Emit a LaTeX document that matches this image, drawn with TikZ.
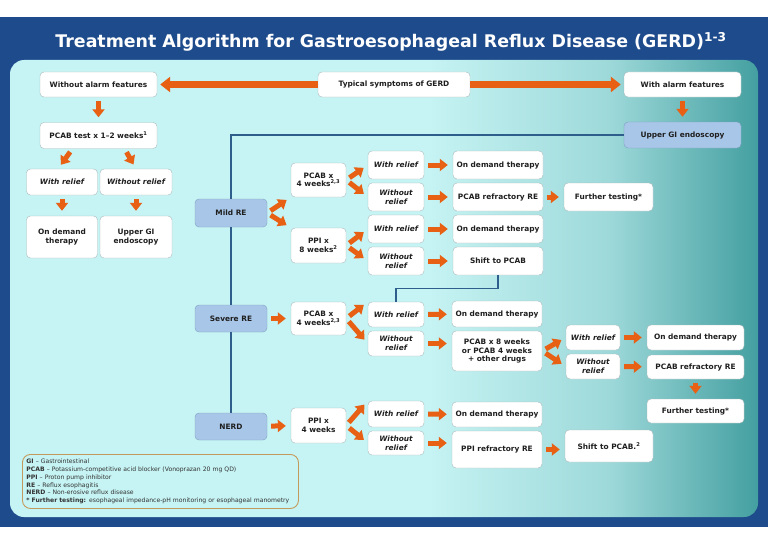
\documentclass[tikz,border=0pt]{standalone}
\usepackage{xcolor}
\usepackage{fontspec}
\setmainfont{DejaVu Sans}
\usepackage{tikz}
\usetikzlibrary{arrows.meta}

\definecolor{gerdnavy}{HTML}{1E4B8C}
\definecolor{gerdorange}{HTML}{E86014}
\definecolor{panellight}{HTML}{C6F3F3}
\definecolor{panelmid}{HTML}{9ED9DA}
\definecolor{paneldark}{HTML}{449FA0}
\definecolor{boxblue}{HTML}{A8C6E8}
\definecolor{boxblueline}{HTML}{829FC2}
\definecolor{boxline}{HTML}{A9B9BC}
\definecolor{flowline}{HTML}{2E5E8C}
\definecolor{legendline}{HTML}{C49A5C}

\pgfdeclarehorizontalshading{panelshade}{100bp}{color(0bp)=(panellight); color(25bp)=(panellight); color(53bp)=(panellight); color(65bp)=(panelmid); color(75bp)=(paneldark); color(100bp)=(paneldark)}

\tikzset{
  box/.style={draw=boxline, fill=white, rounded corners=4pt, align=center, inner sep=1pt,
    text=black!88, font=\fontsize{7.4}{8.6}\selectfont\bfseries},
  bluebox/.style={box, draw=boxblueline, fill=boxblue},
  reliefbox/.style={box, font=\fontsize{7.4}{8.6}\selectfont\bfseries\itshape},
  barrow/.style={draw=gerdorange, line width=5pt, -{Triangle[width=12pt,length=8pt]},
    shorten <=4pt, shorten >=5pt},
  bigarrow/.style={draw=gerdorange, line width=7pt, -{Triangle[width=15pt,length=10pt]},
    shorten >=3pt},
  flow/.style={draw=flowline, line width=1.3pt},
}

\begin{document}
\begin{tikzpicture}[x=1pt,y=-1pt]
\useasboundingbox (0,0) rectangle (768,543);
\fill[white] (0,0) rectangle (768,543);
\fill[gerdnavy] (0,17) rectangle (768,527);
\shade[shading=panelshade, rounded corners=14pt] (10,60) rectangle (758,517);
\node[text=white, font=\fontsize{17.4}{20}\selectfont\bfseries] at (391,42) (title)
    {Treatment Algorithm for Gastroesophageal Reflux Disease (GERD)\textsuperscript{1-3}};

% top row and left branch
\node[box, minimum width=117pt, minimum height=25pt] at (98.5,84.5) (noalarm) {Without alarm features};
\node[box, minimum width=152pt, minimum height=25pt] at (394,84.5) (typical) {Typical symptoms of GERD};
\node[box, minimum width=117pt, minimum height=25pt] at (682.5,84.5) (alarm) {With alarm features};
\node[box, minimum width=117pt, minimum height=26pt] at (98.5,135.5) (pcabtest) {PCAB test x 1--2 weeks\textsuperscript{1}};
\node[reliefbox, minimum width=71pt, minimum height=26pt] at (62,182) (relief) {With relief};
\node[reliefbox, minimum width=72pt, minimum height=26pt] at (136,182) (norelief) {Without relief};
\node[box, minimum width=71pt, minimum height=42pt] at (62,237) (ondemand) {On demand\\therapy};
\node[box, minimum width=72pt, minimum height=42pt] at (136,237) (endoleft) {Upper GI\\endoscopy};
\node[bluebox, minimum width=117pt, minimum height=26pt] at (682.5,135) (endoright) {Upper GI endoscopy};

% mild RE
\node[bluebox, minimum width=72pt, minimum height=28pt] at (231,213) (mildre) {Mild RE};
\node[box, minimum width=55pt, minimum height=34pt] at (318.5,180) (pcabmild) {PCAB x\\4 weeks\textsuperscript{2,3}};
\node[box, minimum width=55pt, minimum height=35pt] at (318.5,245.5) (ppimild) {PPI x\\8 weeks\textsuperscript{2}};
\node[reliefbox, minimum width=56pt, minimum height=28pt] at (396,165) (reliefa) {With relief};
\node[reliefbox, minimum width=56pt, minimum height=28pt] at (396,197) (noreliefa) {Without\\relief};
\node[reliefbox, minimum width=56pt, minimum height=28pt] at (396,229) (reliefb) {With relief};
\node[reliefbox, minimum width=56pt, minimum height=28pt] at (396,261) (noreliefb) {Without\\relief};
\node[box, minimum width=90pt, minimum height=28pt] at (498,165) (demanda) {On demand therapy};
\node[box, minimum width=90pt, minimum height=28pt] at (498,197) (refrpcaba) {PCAB refractory RE};
\node[box, minimum width=89pt, minimum height=28pt] at (608.5,197) (testinga) {Further testing*};
\node[box, minimum width=90pt, minimum height=28pt] at (498,229) (demandb) {On demand therapy};
\node[box, minimum width=90pt, minimum height=28pt] at (498,261) (shiftpcaba) {Shift to PCAB};

% severe RE
\node[bluebox, minimum width=72pt, minimum height=27pt] at (231,318.5) (severere) {Severe RE};
\node[box, minimum width=55pt, minimum height=33pt] at (318.5,318.5) (pcabsevere) {PCAB x\\4 weeks\textsuperscript{2,3}};
\node[reliefbox, minimum width=56pt, minimum height=25pt] at (396,314.5) (reliefc) {With relief};
\node[reliefbox, minimum width=56pt, minimum height=25pt] at (396,343.5) (noreliefc) {Without\\relief};
\node[box, minimum width=90pt, minimum height=26pt] at (497,314) (demandc) {On demand therapy};
\node[box, minimum width=90pt, minimum height=40pt] at (497,351) (pcabeight) {PCAB x 8 weeks\\or PCAB 4 weeks\\+ other drugs};
\node[reliefbox, minimum width=54pt, minimum height=25pt] at (593,337.5) (reliefd) {With relief};
\node[reliefbox, minimum width=54pt, minimum height=25pt] at (593,366.5) (noreliefd) {Without\\relief};
\node[box, minimum width=97pt, minimum height=25pt] at (695.5,337.5) (demandd) {On demand therapy};
\node[box, minimum width=97pt, minimum height=24pt] at (695.5,367) (refrpcabb) {PCAB refractory RE};
\node[box, minimum width=97pt, minimum height=24pt] at (695.5,411) (testingb) {Further testing*};

% NERD
\node[bluebox, minimum width=72pt, minimum height=27pt] at (231,426.5) (nerd) {NERD};
\node[box, minimum width=55pt, minimum height=35pt] at (318.5,425.5) (ppinerd) {PPI x\\4 weeks};
\node[reliefbox, minimum width=56pt, minimum height=26pt] at (396,414) (reliefe) {With relief};
\node[reliefbox, minimum width=56pt, minimum height=24pt] at (396,443) (noreliefe) {Without\\relief};
\node[box, minimum width=90pt, minimum height=25pt] at (497,414.5) (demande) {On demand therapy};
\node[box, minimum width=90pt, minimum height=37pt] at (497,449.5) (refrppi) {PPI refractory RE};
\node[box, minimum width=88pt, minimum height=32pt] at (609,446) (shiftpcabb) {Shift to PCAB.\textsuperscript{2}};

\node[draw=legendline, line width=0.9pt, rounded corners=8pt, anchor=north west, text width=268pt,
    minimum height=54pt, inner sep=4pt, align=left, text=black!80,
    font=\fontsize{6.1}{7.8}\selectfont] at (22,454) (legend)
    {\textbf{GI} -- Gastrointestinal\\
     \textbf{PCAB} -- Potassium-competitive acid blocker (Vonoprazan 20 mg QD)\\
     \textbf{PPI} -- Proton pump inhibitor\\
     \textbf{RE} -- Reflux esophagitis\\
     \textbf{NERD} -- Non-erosive reflux disease\\
     \textbf{* Further testing:} esophageal impedance-pH monitoring or esophageal manometry};

% blue connectors
\draw[flow] (endoright.west) -| (mildre.north);
\draw[flow] (mildre) -- (severere);
\draw[flow] (severere) -- (nerd);
\draw[flow] (shiftpcaba.south) -- ++(0,13.5) -| (reliefc.north);

% orange arrows
\draw[bigarrow] (typical.west) -- (noalarm.east);
\draw[bigarrow] (typical.east) -- (alarm.west);
\draw[barrow] (noalarm) -- (pcabtest);
\draw[barrow] (alarm) -- (endoright);
\draw[barrow] ([xshift=-26pt]pcabtest.south) -- ([xshift=-4pt]relief.north);
\draw[barrow] ([xshift=26pt]pcabtest.south) -- (norelief.north);
\draw[barrow] (relief) -- (ondemand);
\draw[barrow] (norelief) -- (endoleft);

\draw[barrow] (mildre.east) -- (pcabmild.south west);
\draw[barrow] (mildre.east) -- (ppimild.north west);
\draw[barrow] (pcabmild.east) -- (reliefa.west);
\draw[barrow] (pcabmild.east) -- (noreliefa.west);
\draw[barrow] (ppimild.east) -- (reliefb.west);
\draw[barrow] (ppimild.east) -- (noreliefb.west);
\draw[barrow] (reliefa) -- (demanda);
\draw[barrow] (noreliefa) -- (refrpcaba);
\draw[barrow] (refrpcaba) -- (testinga);
\draw[barrow] (reliefb) -- (demandb);
\draw[barrow] (noreliefb) -- (shiftpcaba);

\draw[barrow] (severere) -- (pcabsevere);
\draw[barrow] (pcabsevere.east) -- (reliefc.north west);
\draw[barrow] (pcabsevere.east) -- (noreliefc.west);
\draw[barrow] (reliefc) -- (demandc);
\draw[barrow] (noreliefc.east) -- (noreliefc.east -| pcabeight.west);
\draw[barrow] (pcabeight.east) -- (reliefd.west);
\draw[barrow] (pcabeight.east) -- (noreliefd.west);
\draw[barrow] (reliefd) -- (demandd);
\draw[barrow] (noreliefd) -- (refrpcabb);
\draw[barrow] (refrpcabb) -- (testingb);

\draw[barrow] (nerd) -- (ppinerd);
\draw[barrow] (ppinerd.east) -- (reliefe.north west);
\draw[barrow] (ppinerd.east) -- (noreliefe.west);
\draw[barrow] (reliefe) -- (demande);
\draw[barrow] (noreliefe.east) -- (noreliefe.east -| refrppi.west);
\draw[barrow] (refrppi.east) -- (refrppi.east -| shiftpcabb.west);
\end{tikzpicture}
\end{document}
